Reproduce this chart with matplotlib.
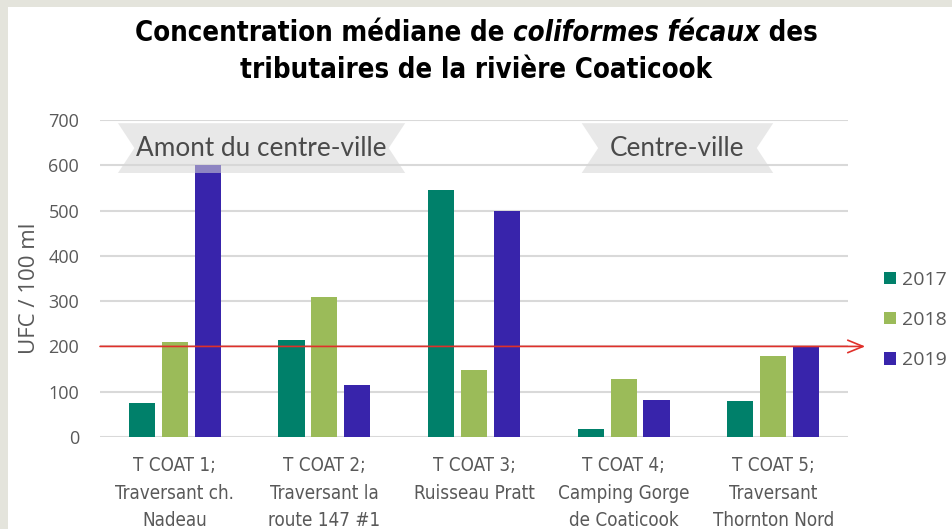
import numpy as np
import matplotlib
matplotlib.use('Agg')
import matplotlib.pyplot as plt
from matplotlib.patches import Polygon, Rectangle

sites = ['T COAT 1;\nTraversant ch.\nNadeau',
         'T COAT 2;\nTraversant la\nroute 147 #1',
         'T COAT 3;\nRuisseau Pratt',
         'T COAT 4;\nCamping Gorge\nde Coaticook',
         'T COAT 5;\nTraversant\nThornton Nord']
years = ['2017', '2018', '2019']
v2017 = [75, 215, 545, 17, 80]
v2018 = [210, 310, 148, 128, 178]
v2019 = [600, 115, 500, 82, 200]
seuil = 200
colors = ['#00806a', '#9bbb59', '#3824ab']

grey = '#595959'

fig = plt.figure(figsize=(9.53, 5.29), dpi=100, facecolor='#e4e4dc')
fig.patches.append(Rectangle((8 / 953, 0), 1, 1 - 7 / 529, transform=fig.transFigure,
                             facecolor='white', edgecolor='none', zorder=-5))

ax = fig.add_axes([100 / 953, 1 - 437 / 529, 748 / 953, 317 / 529])
ax.set_facecolor('none')

x = np.arange(len(sites))
w = 0.174
step = 0.22
for i, (vals, c) in enumerate(zip([v2017, v2018, v2019], colors)):
    ax.bar(x + (i - 1) * step, vals, w, color=c, label=years[i], zorder=2)

ax.set_xlim(-0.5, 4.5)
ax.set_ylim(0, 700)
ax.set_yticks(range(0, 701, 100))
ax.yaxis.grid(True, color='#d9d9d9', lw=1.5, zorder=0)
ax.set_axisbelow(True)
for s in ax.spines.values():
    s.set_visible(False)
ax.tick_params(length=0, colors=grey)
ax.tick_params(axis='y', pad=15, labelsize=13)
ax.tick_params(axis='x', pad=14)
ax.set_xticks(x)
ax.set_xticklabels(sites, family='DejaVu Sans', stretch='condensed', fontsize=13.5,
                   linespacing=1.55)
for t in ax.get_yticklabels():
    t.set_family('Open Sans')
ax.set_ylabel('UFC / 100 ml', fontsize=16, color=grey, family='Open Sans')
ax.yaxis.set_label_coords(-60 / 748, 0.47)

# seuil line with arrow
ax.annotate('', xy=(1.023, seuil), xycoords=('axes fraction', 'data'),
            xytext=(0, seuil), textcoords=('axes fraction', 'data'),
            arrowprops=dict(arrowstyle='->, head_length=1.1, head_width=0.45',
                            color='#e0302a', lw=1.2, shrinkA=0, shrinkB=0),
            annotation_clip=False, zorder=3)


def banner(x0, x1, y0, y1, text):
    n = 0.11
    ym = (y0 + y1) / 2
    pts = [(x0, y1), (x1, y1), (x1 - n, ym), (x1, y0), (x0, y0), (x0 + n, ym)]
    ax.add_patch(Polygon(pts, closed=True, facecolor='#d6d6d6', edgecolor='none',
                         alpha=0.55, zorder=4))
    ax.text((x0 + x1) / 2, ym, text, ha='center', va='center', fontsize=18.8,
            color='#4a4a4a', family='Lato', zorder=5)


banner(-0.38, 1.54, 583, 693, 'Amont du centre-ville')
banner(2.72, 4.0, 583, 693, 'Centre-ville')

leg = ax.legend(loc='upper left', bbox_to_anchor=(1.025, 0.58), frameon=False,
                handlelength=0.6, handleheight=0.6, handletextpad=0.3,
                labelspacing=1.15, prop={'family': 'Open Sans', 'size': 14})
for t in leg.get_texts():
    t.set_color(grey)

# title, with italic part
r = fig.canvas.get_renderer()
tfont = dict(family='DejaVu Sans', stretch='condensed', weight='bold', fontsize=19.8, color='black')
parts = [('Concentration médiane de ', 'normal'), ('coliformes fécaux', 'oblique'), (' des', 'normal')]
texts = []
for s, st in parts:
    texts.append(fig.text(0, 1 - 33 / 529, s, style=st, va='center', ha='left', **tfont))
widths = [t.get_window_extent(r).width for t in texts]
xpos = 476 - sum(widths) / 2
for t, wd in zip(texts, widths):
    t.set_x(xpos / 953)
    xpos += wd
fig.text(476 / 953, 1 - 70 / 529, 'tributaires de la rivière Coaticook', ha='center',
         va='center', **tfont)

fig.savefig('out.png', dpi=100, facecolor=fig.get_facecolor())
